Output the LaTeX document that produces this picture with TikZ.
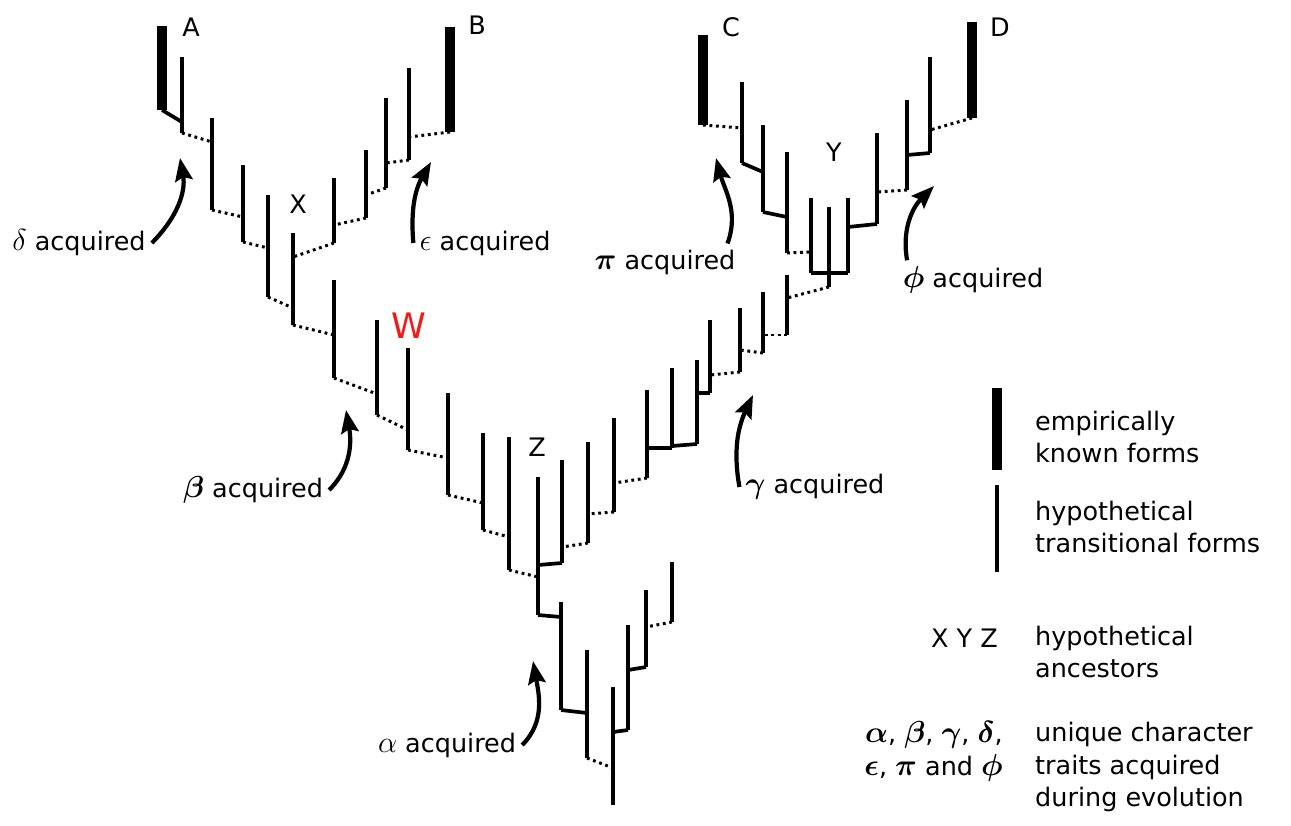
\documentclass[tikz,border=0pt]{standalone}
\usepackage{fontspec}
\setmainfont{DejaVu Sans}
\usepackage{xcolor}
\usepackage{tikz}
\usetikzlibrary{arrows.meta}
\definecolor{wred}{HTML}{EE1C1C}

\newcommand{\stem}[5][form]{%
  \coordinate (#2-t) at (#3,-#4);
  \coordinate (#2-b) at (#3,-#5);
  \draw[#1] (#2-t) -- (#2-b);}
\newcommand{\gk}[1]{{\fontsize{17.28}{20}\selectfont$#1$}}
\newcommand{\gkb}[1]{{\fontsize{17.28}{20}\selectfont\boldmath$#1$}}

\begin{document}
\begin{tikzpicture}[x=0.02cm, y=0.02cm, font=\fontsize{14.5}{18.7}\selectfont,
    form/.style={line width=2.1pt},
    known/.style={line width=5.6pt},
    link/.style={line width=1.7pt, dash pattern=on 1.6pt off 2.1pt},
    joint/.style={line width=2.1pt},
    gain/.style={line width=2.4pt, -{Stealth[length=13pt, width=10pt, inset=2pt]}}]
  \useasboundingbox (0,0) rectangle (1291,-825);

  % lineage A to X
  \stem[known]{A}{162}{26}{110}
  \stem{a1}{182}{57}{133}
  \stem{a2}{212}{118}{210}
  \stem{a3}{243}{165}{242}
  \stem{a4}{268}{195}{297}
  \stem{X}{293}{233}{325}
  % lineage B
  \stem{b1}{334}{178}{243}
  \stem{b2}{366}{150}{218}
  \stem{b3}{386}{98}{188}
  \stem{b4}{409}{68}{160}
  \stem[known]{B}{450}{27}{132}
  % X down to Z
  \stem{w1}{334}{280}{378}
  \stem{w2}{377}{320}{415}
  \stem{W}{408}{348}{450}
  \stem{w4}{448}{393}{495}
  \stem{w5}{483}{433}{530}
  \stem{w6}{509}{437}{570}
  \stem{Z}{538}{477}{615}
  % Z up to Y
  \stem{g1}{562}{460}{563}
  \stem{g2}{588}{442}{543}
  \stem{g3}{614}{418}{512}
  \stem{g4}{647}{390}{478}
  \stem{g5}{672}{368}{448}
  \stem{g6}{697}{360}{444}
  \stem{g7}{710}{320}{393}
  \stem{g8}{740}{308}{372}
  \stem{g9}{763}{292}{353}
  \stem{g10}{787}{275}{335}
  \stem{y1}{811}{198}{273}
  \stem{Y}{829}{207}{287}
  \stem{y2}{848}{198}{273}
  % lineages C and D
  \stem{c1}{787}{152}{253}
  \stem{c2}{763}{125}{212}
  \stem{c3}{742}{82}{163}
  \stem[known]{C}{703}{35}{125}
  \stem{d1}{877}{133}{224}
  \stem{d2}{907}{100}{190}
  \stem{d3}{930}{57}{153}
  \stem[known]{D}{972}{22}{118}
  % root
  \stem{r1}{561}{602}{710}
  \stem{r2}{587}{650}{758}
  \stem{r3}{613}{687}{805}
  \stem{e1}{628}{625}{730}
  \stem{e2}{646}{590}{667}
  \stem{e3}{672}{562}{622}

  \draw[joint] (A-b) -- (a1-t |- 0,-122);
  \draw[link] (a1-b) -- (a2-t |- 0,-142);
  \draw[link] (a2-b) -- (a3-t |- 0,-217);
  \draw[link] (a3-b) -- (a4-t |- 0,-248);
  \draw[link] (a4-b) -- (X-t |- 0,-308);
  \draw[link] (X-b) -- (w1-t |- 0,-335);
  \draw[link] (b1-b) -- (X-t |- 0,-257);
  \draw[link] (b2-b) -- (b1-t |- 0,-225);
  \draw[link] (b3-b) -- (b2-t |- 0,-195);
  \draw[link] (b4-b) -- (b3-t |- 0,-163);
  \draw[link] (B-b) -- (b4-t |- 0,-137);
  \draw[link] (w1-b) -- (w2-t |- 0,-394);
  \draw[link] (w2-b) -- (W-t |- 0,-430);
  \draw[link] (W-b) -- (w4-t |- 0,-458);
  \draw[link] (w4-b) -- (w5-t |- 0,-503);
  \draw[link] (w5-b) -- (w6-t |- 0,-537);
  \draw[link] (w6-b) -- (Z-t |- 0,-577);
  \draw[joint] (g1-b) -- (Z-t |- 0,-565);
  \draw[link] (g2-b) -- (g1-t |- 0,-547);
  \draw[link] (g3-b) -- (g2-t |- 0,-514);
  \draw[link] (g4-b) -- (g3-t |- 0,-483);
  \draw[joint] (g5-b) -- (g4-t |- 0,-448);
  \draw[joint] (g6-b) -- (g5-t |- 0,-446);
  \draw[joint] (g7-b) -- (g6-t |- 0,-393);
  \draw[link] (g8-b) -- (g7-t |- 0,-375);
  \draw[link] (g9-b) -- (g8-t |- 0,-350);
  \draw[link] (g10-b) -- (g9-t |- 0,-335);
  \draw[link] (Y-b) -- (g10-t |- 0,-298);
  \draw[joint] (y1-b) -- (y2-b);
  \draw[link] (c1-b) -- (y1-t |- 0,-252);
  \draw[joint] (c2-b) -- (c1-t |- 0,-217);
  \draw[joint] (c3-b) -- (c2-t |- 0,-172);
  \draw[link] (C-b) -- (c3-t |- 0,-128);
  \draw[joint] (d1-b) -- (y2-t |- 0,-227);
  \draw[link] (d2-b) -- (d1-t |- 0,-192);
  \draw[joint] (d3-b) -- (d2-t |- 0,-155);
  \draw[link] (D-b) -- (d3-t |- 0,-130);
  \draw[joint] (Z-b) -- (r1-t |- 0,-617);
  \draw[joint] (r1-b) -- (r2-t |- 0,-713);
  \draw[link] (r2-b) -- (r3-t |- 0,-768);
  \draw[joint] (e1-b) -- (r3-t |- 0,-732);
  \draw[joint] (e2-b) -- (e1-t |- 0,-670);
  \draw[link] (e3-b) -- (e2-t |- 0,-627);

  \node (labA) at (191,-27) {A};
  \node (labB) at (477,-25) {B};
  \node (labC) at (731,-27) {C};
  \node (labD) at (1000,-27) {D};
  \node (labX) at (298,-204) {X};
  \node (labY) at (834,-152) {Y};
  \node (labZ) at (537,-447) {Z};
  \node[text=wred, font=\fontsize{20}{24}\selectfont] (labW) at (409,-326) {W};

  \node (ldelta) at (79,-243) {\gk{\delta} acquired};
  \node (leps) at (485,-243) {\gk{\epsilon} acquired};
  \node (lpi) at (665,-262) {\gkb{\pi} acquired};
  \node (lphi) at (973,-280) {\gkb{\phi} acquired};
  \node (lbeta) at (253,-490) {\gkb{\beta} acquired};
  \node (lgamma) at (815,-487) {\gkb{\gamma} acquired};
  \node (lalpha) at (447,-745) {\gk{\alpha} acquired};

  \coordinate (dhead) at (180,-158);
  \coordinate (ehead) at (431,-162);
  \coordinate (pihead) at (716,-158);
  \coordinate (phihead) at (934,-186);
  \coordinate (bhead) at (346,-410);
  \coordinate (ghead) at (753,-395);
  \coordinate (ahead) at (533,-661);
  \draw[gain] (ldelta.east) to[out=45, in=-80] (dhead);
  \draw[gain] (leps.west) to[out=95, in=-120] (ehead);
  \draw[gain] ([xshift=-8pt]lpi.north east) to[out=70, in=-75] (pihead);
  \draw[gain] ([xshift=6pt]lphi.north west) to[out=100, in=-135] (phihead);
  \draw[gain] (lbeta.east) to[out=45, in=-80] (bhead);
  \draw[gain] (lgamma.west) to[out=100, in=-115] (ghead);
  \draw[gain] (lalpha.east) to[out=45, in=-80] (ahead);

  % key
  \stem[known]{lk}{997}{388}{470}
  \stem{lh}{997}{485}{572}
  \node[anchor=west, align=left] (lgk) at (1029,-437) {empirically\\known forms};
  \node[anchor=west, align=left] (lgh) at (1029,-527) {hypothetical\\transitional forms};
  \node[anchor=east] (lgxyz) at (1004,-638) {X Y Z};
  \node[anchor=west, align=left] (lga) at (1029,-652) {hypothetical\\ancestors};
  \node[anchor=east, align=right] (lgg) at (1009,-751)
    {{\gkb{\alpha}, \gkb{\beta}, \gkb{\gamma}, \gkb{\delta},}\\ {\gkb{\epsilon}, \gkb{\pi} and \gkb{\phi}}};
  \node[anchor=west, align=left] (lgu) at (1029,-767) {unique character\\traits acquired\\during evolution};
\end{tikzpicture}
\end{document}
